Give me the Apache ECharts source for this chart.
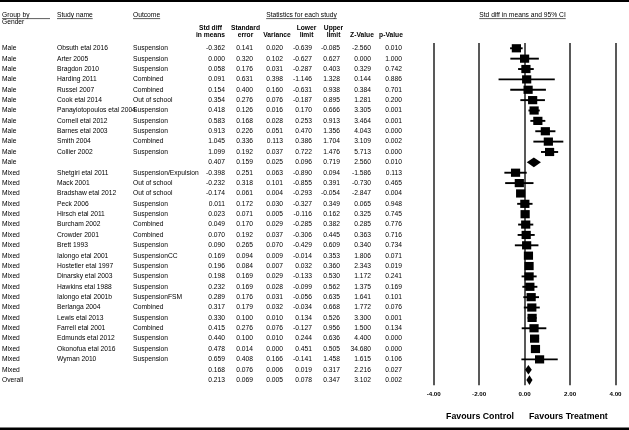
<!DOCTYPE html>
<html><head><meta charset="utf-8">
<script src="https://cdn.jsdelivr.net/npm/echarts@6/dist/echarts.min.js"></script>
<style>html,body{margin:0;padding:0;background:#fff}#c{width:629px;height:430px}</style>
</head><body><div id="c"></div>
<script>
// ---------------- DATA ----------------
const groups = ['Male','Male','Male','Male','Male','Male','Male','Male','Male','Male','Male','Male',
  'Mixed','Mixed','Mixed','Mixed','Mixed','Mixed','Mixed','Mixed','Mixed','Mixed','Mixed','Mixed','Mixed','Mixed','Mixed','Mixed','Mixed','Mixed','Mixed','Mixed',
  'Overall'];
const studies = ['Obsuth etal 2016','Arter 2005','Bragdon 2010','Harding 2011','Russel 2007','Cook etal 2014','Panayiotopoulos etal 2004','Cornell etal 2012','Barnes etal 2003','Smith 2004','Collier 2002','',
  'Shetgiri etal 2011','Mack 2001','Bradshaw etal 2012','Peck 2006','Hirsch etal 2011','Burcham 2002','Crowder 2001','Brett 1993','Ialongo etal 2001','Hostetler etal 1997','Dinarsky etal 2003','Hawkins etal 1988','Ialongo etal 2001b','Berlanga 2004','Lewis etal 2013','Farrell etal 2001','Edmunds etal 2012','Okonofua etal 2016','Wyman 2010','',
  ''];
const outcomes = ['Suspension','Suspension','Suspension','Combined','Combined','Out of school','Suspension','Suspension','Suspension','Combined','Suspension','',
  'Suspension/Expulsion','Out of school','Out of school','Suspension','Suspension','Combined','Combined','Suspension','SuspensionCC','Suspension','Suspension','Suspension','SuspensionFSM','Combined','Suspension','Combined','Suspension','Suspension','Suspension','',
  ''];
const rowKind = ['study','study','study','study','study','study','study','study','study','study','study','summary',
  'study','study','study','study','study','study','study','study','study','study','study','study','study','study','study','study','study','study','study','summary',
  'summary'];
const stdDiff = [-0.362,0.000,0.058,0.091,0.154,0.354,0.418,0.583,0.913,1.045,1.099,0.407,
  -0.398,-0.232,-0.174,0.011,0.023,0.049,0.070,0.090,0.169,0.196,0.198,0.232,0.289,0.317,0.330,0.415,0.440,0.478,0.659,0.168,
  0.213];
const stdErr = [0.141,0.320,0.176,0.631,0.400,0.276,0.126,0.168,0.226,0.336,0.192,0.159,
  0.251,0.318,0.061,0.172,0.071,0.170,0.192,0.265,0.094,0.084,0.169,0.169,0.176,0.179,0.100,0.276,0.100,0.014,0.408,0.076,
  0.069];
const variance = [0.020,0.102,0.031,0.398,0.160,0.076,0.016,0.028,0.051,0.113,0.037,0.025,
  0.063,0.101,0.004,0.030,0.005,0.029,0.037,0.070,0.009,0.007,0.029,0.028,0.031,0.032,0.010,0.076,0.010,0.000,0.166,0.006,
  0.005];
const lowerLimit = [-0.639,-0.627,-0.287,-1.146,-0.631,-0.187,0.170,0.253,0.470,0.386,0.722,0.096,
  -0.890,-0.855,-0.293,-0.327,-0.116,-0.285,-0.306,-0.429,-0.014,0.032,-0.133,-0.099,-0.056,-0.034,0.134,-0.127,0.244,0.451,-0.141,0.019,
  0.078];
const upperLimit = [-0.085,0.627,0.403,1.328,0.938,0.895,0.666,0.913,1.356,1.704,1.476,0.719,
  0.094,0.391,-0.054,0.349,0.162,0.382,0.445,0.609,0.353,0.360,0.530,0.562,0.635,0.668,0.526,0.956,0.636,0.505,1.458,0.317,
  0.347];
const zValue = [-2.560,0.000,0.329,0.144,0.384,1.281,3.305,3.464,4.043,3.109,5.713,2.560,
  -1.586,-0.730,-2.847,0.065,0.325,0.285,0.363,0.340,1.806,2.343,1.172,1.375,1.641,1.772,3.300,1.500,4.400,34.680,1.615,2.216,
  3.102];
const pValue = [0.010,1.000,0.742,0.886,0.701,0.200,0.001,0.001,0.000,0.002,0.000,0.010,
  0.113,0.465,0.004,0.948,0.745,0.776,0.716,0.734,0.071,0.019,0.241,0.169,0.101,0.076,0.001,0.134,0.000,0.000,0.106,0.027,
  0.002];
const colHeads = [['Std diff','in means'],['Standard','error'],['','Variance'],['Lower','limit'],['Upper','limit'],['','Z-Value'],['','p-Value']];
const axisMin = -4, axisMax = 4, axisStep = 2;

// ---------------- LAYOUT ----------------
const FONT = '"Liberation Sans", Arial, Helvetica, sans-serif';
const F = '6.7px ' + FONT;
const FB = 'bold 6.7px ' + FONT;
const numCols = [stdDiff, stdErr, variance, lowerLimit, upperLimit, zValue, pValue];
const valueRight = [225, 253, 283, 312, 340, 371, 402];
const headCenter = [210.5, 245.5, 277, 306.5, 333.5, 362, 391];
const nRows = studies.length;
const rows = studies.map((s, i) => i);

const mctx = document.createElement('canvas').getContext('2d');
function tw(text, font) { mctx.font = font; return mctx.measureText(text).width; }

const chart = echarts.init(document.getElementById('c'), null, {renderer: 'canvas'});

const graphics = [];
function gtext(x, y, text, font, align) {
  graphics.push({type: 'text', silent: true, style: {x, y, text, font, fill: '#000', align: align || 'left', verticalAlign: 'middle'}});
}
function gline(x1, y1, x2, y2, w, c) {
  graphics.push({type: 'line', silent: true, shape: {x1, y1, x2, y2}, style: {stroke: c || '#333', lineWidth: w || 1}});
}
// borders
graphics.push({type: 'rect', silent: true, shape: {x: 0, y: 0, width: 629, height: 2}, style: {fill: '#000'}});
graphics.push({type: 'rect', silent: true, shape: {x: 0, y: 427.6, width: 629, height: 2.4}, style: {fill: '#000'}});
// top headers
const hy = 15, uy = 18.6;
gtext(2, hy, 'Group by', F); gtext(2, 22.6, 'Gender', F); gline(2, uy, 50, uy, 0.8);
gtext(57, hy, 'Study name', F); gline(57, uy, 57 + tw('Study name', F), uy, 0.8);
gtext(133, hy, 'Outcome', F); gline(133, uy, 133 + tw('Outcome', F), uy, 0.8);
const st = 'Statistics for each study', stc = 301.5, stw = tw(st, F);
gtext(stc, hy, st, F, 'center'); gline(stc - stw / 2, uy, stc + stw / 2, uy, 0.8);
const ci = 'Std diff in means and 95% CI', cic = 522.5, ciw = tw(ci, F);
gtext(cic, hy, ci, F, 'center'); gline(cic - ciw / 2, uy, cic + ciw / 2, uy, 0.8);
colHeads.forEach((h, k) => {
  if (h[0]) gtext(headCenter[k], 28, h[0], FB, 'center');
  gtext(headCenter[k], 35, h[1], FB, 'center');
});
// favours
const FF = 'bold 8.8px ' + FONT;
gtext(514, 416.5, 'Favours Control', FF, 'right');
gtext(529, 416.5, 'Favours Treatment', FF, 'left');

const option = {
  animation: false,
  backgroundColor: '#fff',
  grid: {left: 433.7, right: 13.5, top: 43.1, height: 342.2, containLabel: false},
  xAxis: {
    type: 'value', min: axisMin, max: axisMax, interval: axisStep,
    axisLine: {show: false}, axisTick: {show: false},
    splitLine: {show: true, lineStyle: {color: '#222', width: 1.5}},
    axisLabel: {formatter: v => v.toFixed(2), fontFamily: FONT, fontWeight: 'bold', fontSize: 6.2, color: '#000', margin: 6}
  },
  yAxis: {
    type: 'value', min: -0.5, max: nRows - 0.5, inverse: true, show: false, splitLine: {show: false}
  },
  graphic: graphics,
  series: [
    {
      type: 'custom', clip: false, silent: true,
      encode: {x: 0, y: 1},
      data: rows.map(i => [0, i]),
      renderItem(params, api) {
        const i = params.dataIndex;
        const y = api.coord([0, api.value(1)])[1];
        const kids = [];
        const t = (x, text, align) => kids.push({type: 'text', style: {x, y, text, font: F, fill: '#000', align, verticalAlign: 'middle'}});
        t(2, groups[i], 'left');
        if (studies[i]) t(57, studies[i], 'left');
        if (outcomes[i]) t(133, outcomes[i], 'left');
        numCols.forEach((arr, k) => t(valueRight[k], arr[i].toFixed(3), 'right'));
        return {type: 'group', children: kids};
      }
    },
    {
      type: 'custom', clip: false, silent: true,
      encode: {x: [0, 1, 2], y: 3},
      data: rows.map(i => [stdDiff[i], lowerLimit[i], upperLimit[i], i]),
      renderItem(params, api) {
        const row = api.value(3);
        const pE = api.coord([api.value(0), row]);
        const pL = api.coord([api.value(1), row]);
        const pH = api.coord([api.value(2), row]);
        if (rowKind[row] === 'summary') {
          return {type: 'polygon', shape: {points: [[pL[0], pE[1]], [pE[0], pE[1] - 4.8], [pH[0], pE[1]], [pE[0], pE[1] + 4.8]]}, style: {fill: '#000'}};
        }
        return {type: 'group', children: [
          {type: 'line', shape: {x1: pL[0], y1: pL[1], x2: pH[0], y2: pH[1]}, style: {stroke: '#000', lineWidth: 1.9}},
          {type: 'rect', shape: {x: pE[0] - 4.6, y: pE[1] - 4.1, width: 9.2, height: 8.2}, style: {fill: '#000'}}
        ]};
      }
    }
  ]
};
chart.setOption(option);
</script>
</body></html>
